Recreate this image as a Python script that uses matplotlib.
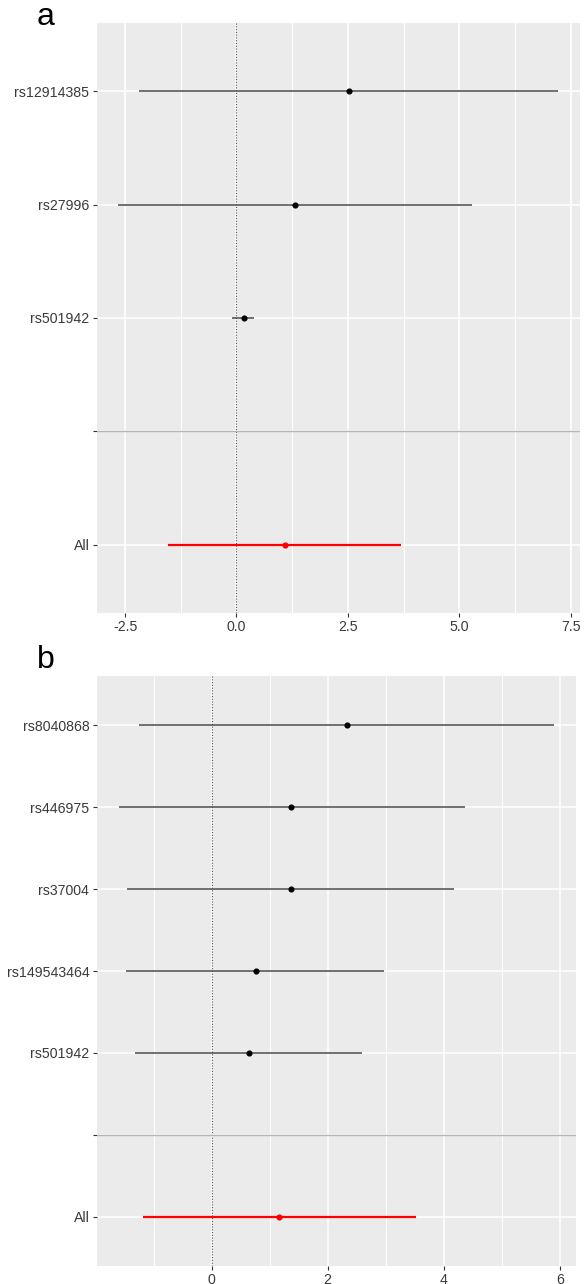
import matplotlib.pyplot as plt
from matplotlib.ticker import MultipleLocator, FormatStrFormatter

plt.rcParams['font.family'] = ['Liberation Sans', 'DejaVu Sans']
plt.rcParams['axes.unicode_minus'] = False

# panel a: per-SNP estimates with 95% CI, plus the pooled estimate
a_snps = ['rs12914385', 'rs27996', 'rs501942']
a_est = [2.52, 1.32, 0.17]
a_lo = [-2.19, -2.65, -0.09]
a_hi = [7.21, 5.28, 0.40]
a_all = [1.09, -1.53, 3.70]  # est, lo, hi

# panel b
b_snps = ['rs8040868', 'rs446975', 'rs37004', 'rs149543464', 'rs501942']
b_est = [2.33, 1.37, 1.36, 0.76, 0.64]
b_lo = [-1.25, -1.60, -1.45, -1.47, -1.32]
b_hi = [5.90, 4.36, 4.18, 2.97, 2.59]
b_all = [1.17, -1.18, 3.52]

BG = '#EBEBEB'
TXT = '#3a3a3a'


def forest(ax, snps, est, lo, hi, pooled, xlim, major, minor, fmt):
    n = len(snps)
    rows = list(range(n))
    ax.set_facecolor(BG)
    for s in ax.spines.values():
        s.set_visible(False)
    ax.set_axisbelow(True)
    ax.xaxis.set_major_locator(MultipleLocator(major))
    ax.xaxis.set_minor_locator(MultipleLocator(minor))
    ax.xaxis.set_major_formatter(FormatStrFormatter(fmt))
    ax.grid(which='major', color='white', lw=1.1)
    ax.grid(which='minor', axis='x', color='white', lw=0.7)

    ax.axvline(0, color='#555555', ls=(0, (1, 1.5)), lw=0.8, zorder=2)
    ax.axhline(n, color='#b5b5b5', lw=1.0, zorder=2)

    ax.hlines(rows, lo, hi, color='#4a4a4a', lw=1.1, zorder=3)
    ax.plot(est, rows, 'o', color='black', ms=3.4, zorder=4)
    ax.hlines(n + 1, pooled[1], pooled[2], color='#ff0000', lw=1.6, zorder=3)
    ax.plot([pooled[0]], [n + 1], 'o', color='#ff0000', ms=3.4, zorder=4)

    ax.set_yticks(rows + [n, n + 1])
    ax.set_yticklabels(snps + ['', 'All'])
    ax.set_ylim(n + 1.6, -0.6)
    ax.set_xlim(*xlim)
    ax.tick_params(axis='both', which='major', length=3, width=0.8,
                   color='#333333', labelcolor=TXT, labelsize=10.2, pad=2.5)
    ax.tick_params(axis='x', which='major', pad=1.8)
    ax.tick_params(axis='x', which='minor', length=0)


fig = plt.figure(figsize=(5.85, 12.84), dpi=100)
W, H = 585, 1284

ax_a = fig.add_axes([97 / W, 1 - 613 / H, (580 - 97) / W, (613 - 23) / H])
forest(ax_a, a_snps, a_est, a_lo, a_hi, a_all, (-3.13, 7.71), 2.5, 1.25, '%.1f')

ax_b = fig.add_axes([97 / W, 1 - 1266 / H, (576 - 97) / W, (1266 - 676) / H])
forest(ax_b, b_snps, b_est, b_lo, b_hi, b_all, (-1.975, 6.28), 2, 1, '%d')

fig.text(37 / W, 1 - 25 / H, 'a', fontsize=23, va='baseline', color='black')
fig.text(37 / W, 1 - 668 / H, 'b', fontsize=23, va='baseline', color='black')

plt.savefig('out.png', dpi=100)
plt.close()
